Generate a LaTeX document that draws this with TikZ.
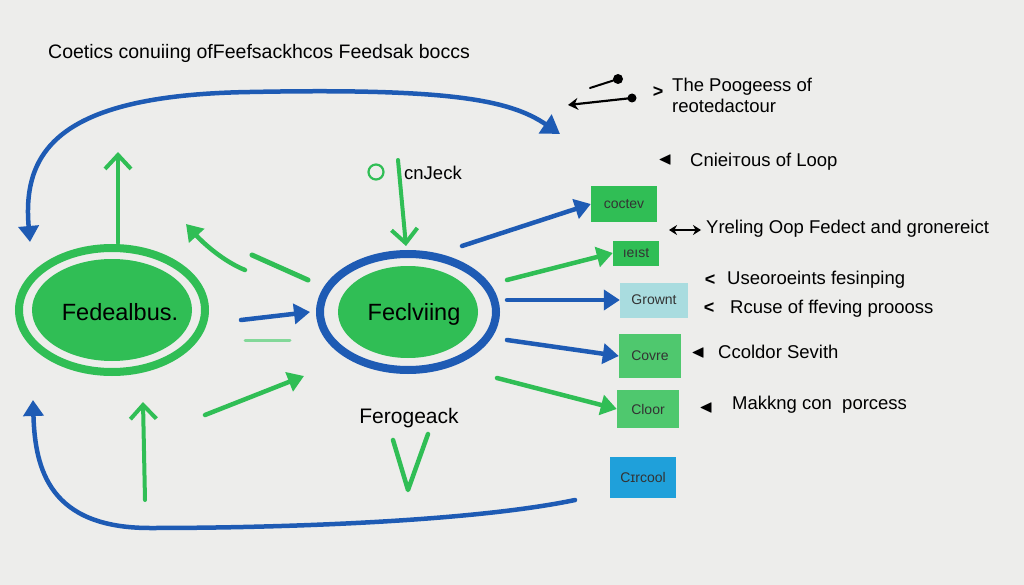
\documentclass[tikz,border=0pt]{standalone}
\usepackage{amssymb}
\usepackage{fontspec}
\setmainfont{Liberation Sans}
\usetikzlibrary{arrows.meta,shapes.geometric}
\definecolor{bg}{HTML}{EDEDEB}
\definecolor{gr}{HTML}{30BE55}
\definecolor{bl}{HTML}{1E5BB4}
\definecolor{cy}{HTML}{A9DCDF}
\definecolor{sk}{HTML}{1FA0DA}
\tikzset{
  lab/.style={anchor=west,font=\fontsize{18.5}{21}\selectfont,text=black,inner sep=0},
  boxt/.style={draw=none,minimum width=#1,font=\fontsize{14}{15}\selectfont,text=black!80,inner sep=0},
  gbox/.style={boxt=64,fill=gr},
  barrow/.style={draw=bl,line width=4.5,line cap=round,-{Triangle[length=16,width=20]}},
  garrow/.style={draw=gr,line width=4.5,line cap=round,-{Triangle[length=16,width=20]}},
  vhead/.style={draw=gr,line width=4,line cap=round,-{Straight Barb[length=14,width=26,line width=4]}},
  tip/.style={font=\fontsize{18}{18}\selectfont\bfseries,inner sep=0},
  big/.style={font=\fontsize{23.5}{26}\selectfont},
}
\begin{document}
\begin{tikzpicture}[x=1pt,y=-1pt]
\fill[bg] (0,0) rectangle (1024,585);
\useasboundingbox (0,0) rectangle (1024,585);

% title
\node[lab,font=\fontsize{19.5}{22}\selectfont] (title) at (48,53) {Coetics conuiing ofFeefsackhcos Feedsak bоccs};

% big loops
\coordinate (tl1) at (30,242);
\coordinate (tl2) at (560,134);
\draw[draw=bl,line width=4.5,line cap=round,{Triangle[length=16,width=20]}-{Triangle[length=18,width=22]}] (tl1) .. controls (22,150) and (60,95) .. (250,92) .. controls (450,88) and (510,100) .. (tl2);
\coordinate (bl1) at (575,500);
\coordinate (bl2) at (33,400);
\draw[barrow] (bl1) .. controls (480,520) and (300,528) .. (150,528) .. controls (50,528) and (35,470) .. (bl2);

% ellipses
\node[ellipse,draw=gr,line width=8,fill=bg,minimum width=186,minimum height=124] (fed) at (112,310) {};
\fill[gr] (fed.center) ellipse (80 and 51);
\node[big] at (120,312) {Fedealbus.};

\node[ellipse,draw=bl,line width=8,fill=bg,minimum width=176,minimum height=116] (fec) at (408,312) {};
\fill[gr] (fec.center) ellipse (70 and 46);
\node[big] at (414,314) {Feclviing};

% left green arrows
\coordinate (u1a) at (118,243); \coordinate (u1b) at (118,152);
\draw[vhead] (u1a) -- (u1b);
\coordinate (u2a) at (145,500); \coordinate (u2b) at (143,402);
\draw[vhead] (u2a) -- (u2b);
\coordinate (c1a) at (245,270); \coordinate (c1b) at (186,224);
\draw[garrow] (c1a) .. controls (225,262) and (205,245) .. (c1b);
\coordinate (d1a) at (252,255); \coordinate (d1b) at (308,280);
\draw[gr,line width=5,line cap=round] (d1a) -- (d1b);
\draw[barrow] (fed.east) ++(32,10) -- ([xshift=-6]fec.west);
\coordinate (fa) at (245,340); \coordinate (fb) at (290,340);
\draw[gr!60,line width=3,line cap=round] (fa) -- (fb);
\coordinate (g1a) at (205,415); \coordinate (g1b) at (304,376);
\draw[garrow] (g1a) -- (g1b);

% check
\node[anchor=west,font=\fontsize{18.5}{21}\selectfont,inner sep=0] (check) at (404,173) {cnJeck};
\node[circle,draw=gr,line width=2.2,minimum size=15,inner sep=0] (ring) at (376,172) {};
\coordinate (ca) at (398,160); \coordinate (cb) at (406,246);
\draw[vhead] (ca) -- (cb);

% Ferogeack
\node[font=\fontsize{21}{23}\selectfont] (fero) at (409,418) {Ferogeack};
\coordinate (va) at (393,440); \coordinate (vb) at (408,490); \coordinate (vc) at (428,434);
\draw[gr,line width=4.5,line cap=round,line join=round] (va) -- (vb) -- (vc);

% boxes
\node[gbox,minimum width=66,minimum height=36] (b1) at (624,204) {coctev};
\node[gbox,minimum width=46,minimum height=25] (b2) at (636,253) {ıeıst};
\node[boxt=68,fill=cy,minimum height=35] (b3) at (654,300) {Grownt};
\node[gbox,minimum width=62,minimum height=44,fill=gr!85] (b4) at (650,356) {Covre};
\node[gbox,minimum width=62,minimum height=38,fill=gr!85] (b5) at (648,409) {Cloor};
\node[boxt=66,fill=sk,minimum height=41] (b6) at (643,477) {Cɪrcool};

% arrows to boxes
\coordinate (s1) at (462,246);
\draw[barrow] (s1) -- (b1.west);
\coordinate (s2) at (507,280);
\draw[garrow] (s2) -- (b2.west);
\coordinate (s3) at (507,300);
\draw[barrow] (s3) -- (b3.west);
\coordinate (s4) at (507,340);
\draw[barrow] (s4) -- (b4.west);
\coordinate (s5) at (497,378);
\draw[garrow] (s5) -- (b5.west);

% top right small arrows
\coordinate (p1) at (590,88); \coordinate (p2) at (618,79);
\draw[line width=2,line cap=round] (p1) -- (p2);
\fill (p2) circle (5);
\coordinate (q1) at (568,105); \coordinate (q2) at (632,98);
\draw[line width=2.2,-{Stealth[length=10,width=12]}] (q2) -- (q1);
\fill (q2) circle (4.5);

% right labels
\node[tip] (m1) at (658,92) {>};
\node[lab,align=left] (t1) at (672,95) {The Poogeess of\\reotedactour};
\node[tip] (m2) at (665,160) {$\blacktriangleleft$};
\node[lab] (t2) at (690,162) {Cnieiтous of Loop};
\coordinate (h1) at (669,230); \coordinate (h2) at (701,230);
\draw[line width=2,{Stealth[length=8,width=10]}-{Stealth[length=8,width=10]}] (h1) -- (h2);
\node[lab] (t3) at (706,229) {Yreling Oop Fedect and gronereіct};
\node[tip] (m4) at (710,280) {<};
\node[lab] (t4) at (727,280) {Useoroeints fesinping};
\node[tip] (m5) at (709,308) {<};
\node[lab] (t5) at (730,309) {Rcuse of ffeving proooss};
\node[tip] (m6) at (698,353) {$\blacktriangleleft$};
\node[lab] (t6) at (718,352) {Ccoldor Sevith};
\node[tip] (m7) at (706,408) {$\blacktriangleleft$};
\node[lab] (t7) at (732,405) {Makkng con\ \ porcess};
\end{tikzpicture}
\end{document}
